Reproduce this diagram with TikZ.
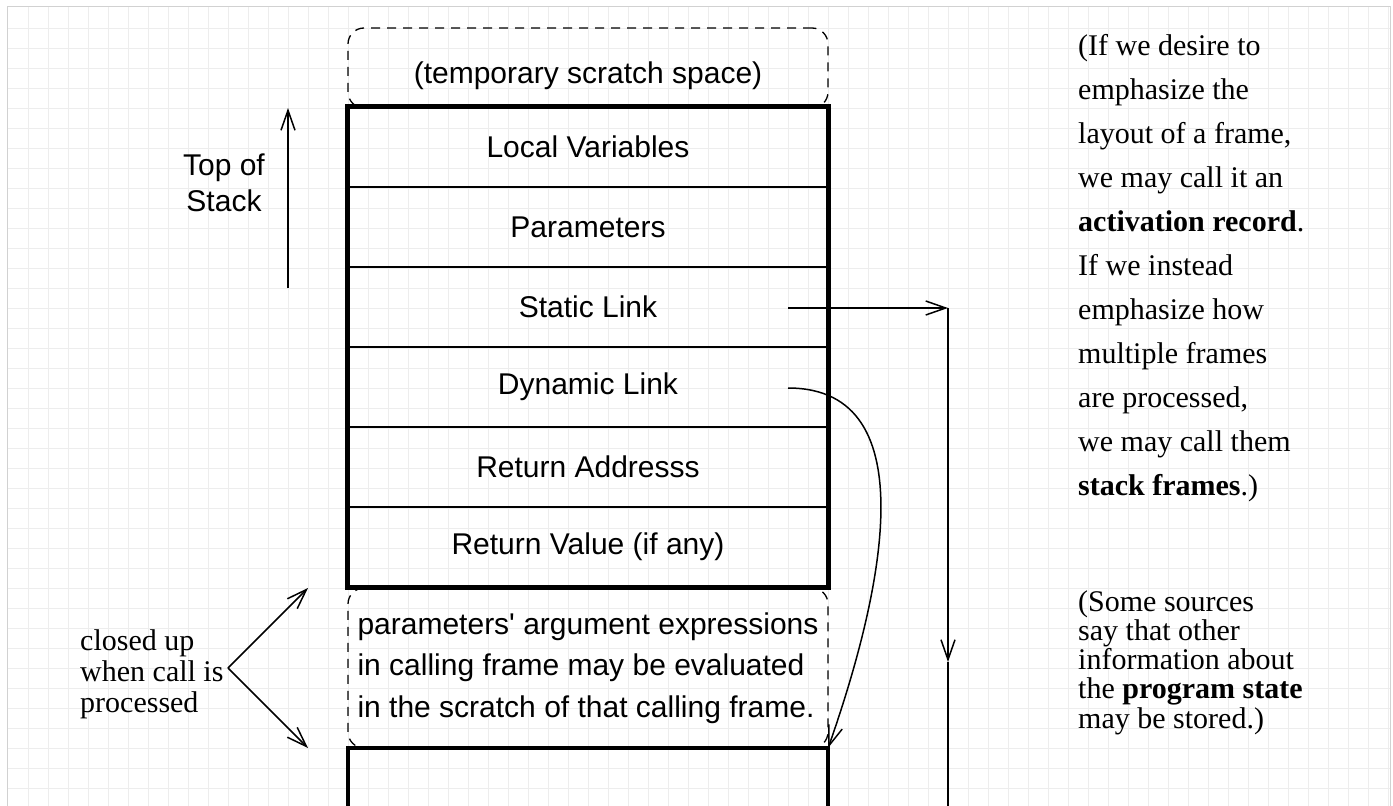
\documentclass[tikz,border=0pt]{standalone}
\usepackage{fontspec}
\setmainfont{Liberation Serif}
\setsansfont{Liberation Sans}[Ligatures=TeXOff]
\usetikzlibrary{arrows.meta}
\begin{document}
\begin{tikzpicture}[x=1pt,y=-1pt,
  gridline/.style={draw=black!7, line width=1pt},
  pageborder/.style={draw=black!18, line width=1pt},
  sanstext/.style={font=\sffamily\fontsize{30pt}{36pt}\selectfont},
  rowbox/.style={draw, line width=1.2pt, minimum width=480pt, minimum height=80pt, inner sep=0pt, sanstext},
  thickframe/.style={line width=4.5pt},
  dashbox/.style={draw, line width=1.3pt, dash pattern=on 9pt off 7pt, rounded corners=16pt, minimum width=480pt, inner sep=0pt, sanstext},
  conn/.style={line width=1.5pt},
  openhead/.style={-{Straight Barb[length=20pt,width=14pt]}},
  serifnote/.style={anchor=north west, align=left, inner sep=0pt}
]
\useasboundingbox (0,0) rectangle (1393,806);
% background grid
\foreach \gx in {28,48,...,1388} \draw[gridline] (\gx,6) -- (\gx,806);
\foreach \gy in {28,48,...,788} \draw[gridline] (7,\gy) -- (1390,\gy);
\draw[pageborder] (7,806) -- (7,6) -- (1390,6) -- (1390,806);

% scratch space
\node[dashbox, minimum height=80pt, text height=30pt, text depth=0pt] (scratch) at (588,68) {(temporary scratch space)};

% frame rows
\node[rowbox] (lv) at (588,147) {Local Variables};
\node[rowbox] (pa) at (588,227) {Parameters};
\node[rowbox] (sl) at (588,307) {Static Link};
\node[rowbox] (dl) at (588,387) {Dynamic Link};
\node[rowbox] (ra) at (588,467) {Return Addresss};
\node[rowbox] (rv) at (588,547) {Return Value (if any)};
\draw[thickframe] (lv.north west) rectangle (rv.south east);

% argument evaluation scratch
\node[dashbox, minimum height=160pt, align=left,
  font=\sffamily\fontsize{30pt}{41.5pt}\selectfont] (args) at (588,668)
  {parameters' argument expressions\\in calling frame may be evaluated\\in the scratch of that calling frame.};

% next (calling) frame
\node[minimum width=480pt, minimum height=104pt, inner sep=0pt] (nf) at (588,800) {};
\draw[thickframe] (nf.south west) -- (nf.north west) -- (nf.north east) -- (nf.south east);

% top of stack
\node[sanstext, align=center, inner sep=0pt] (tos) at (224,183) {Top of\\Stack};
\coordinate (tosA) at (288,288);
\coordinate (tosB) at (288,108);
\draw[conn, openhead] (tosA) -- (tosB);

% closed up
\node[anchor=north west, align=left, inner sep=0pt,
  font=\fontsize{30pt}{31pt}\selectfont] (closed) at (80,629) {closed up\\when call is\\processed};
\coordinate (cv) at (228,668);
\coordinate (cvUp) at (308,588);
\coordinate (cvDn) at (308,748);
\draw[conn, openhead] (cv) -- (cvUp);
\draw[conn, openhead] (cv) -- (cvDn);

% static link
\coordinate (slA) at (788,308);
\coordinate (slB) at (948,308);
\coordinate (slM) at (948,662);
\coordinate (slC) at (948,812);
\draw[conn, openhead] (slA) -- (slB);
\draw[conn, openhead] (slB) -- (slM);
\draw[conn] (slM) -- (slC);

% dynamic link
\coordinate (dlA) at (788,388);
\draw[conn, openhead] (dlA) .. controls (930,388) and (880,600) .. (nf.north east);

% notes
\node[serifnote, font=\fontsize{30pt}{44pt}\selectfont] (note1) at (1078,34)
  {(If we desire to\\emphasize the\\layout of a frame,\\we may call it an\\\textbf{activation record}.\\If we instead\\emphasize how\\multiple frames\\are processed,\\we may call them\\\textbf{stack frames}.)};
\node[serifnote, font=\fontsize{30pt}{29.25pt}\selectfont] (note2) at (1078,590)
  {(Some sources\\say that other\\information about\\the \textbf{program state}\\may be stored.)};
\end{tikzpicture}
\end{document}
